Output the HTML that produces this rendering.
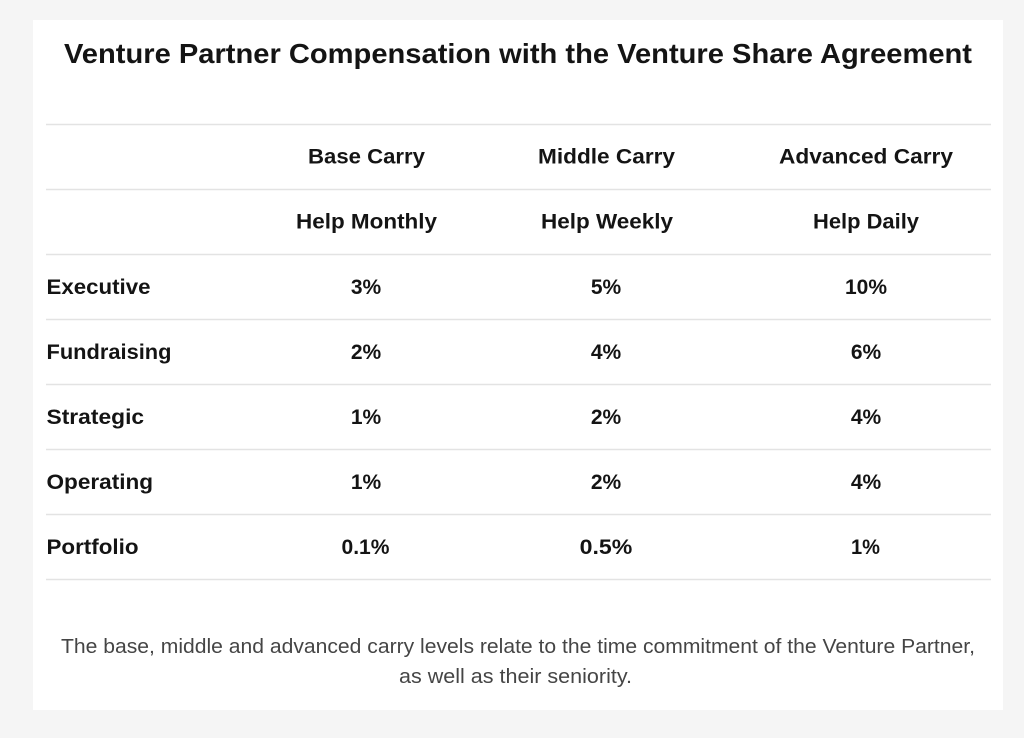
<!DOCTYPE html>
<html>
<head>
<meta charset="utf-8">
<style>
  html, body { margin:0; padding:0; background:#f5f5f5; }
  body { width:1024px; height:738px; overflow:hidden; }
  svg { display:block; }
  .t { font-family:"Liberation Sans", sans-serif; fill:#141414; }
  .b { font-weight:bold; font-size:21px; }
</style>
</head>
<body>
<svg width="1024" height="738" viewBox="0 0 1024 738" xmlns="http://www.w3.org/2000/svg">
  <rect x="0" y="0" width="1024" height="738" fill="#f5f5f5"/>
  <rect x="33" y="20" width="970" height="690" fill="#ffffff"/>

  <text class="t" x="518" y="63" text-anchor="middle" font-size="28" font-weight="bold" textLength="908" lengthAdjust="spacingAndGlyphs">Venture Partner Compensation with the Venture Share Agreement</text>

  <g stroke="#e3e3e3" stroke-width="1.5">
    <line x1="46" y1="124.5" x2="991" y2="124.5"/>
    <line x1="46" y1="189.5" x2="991" y2="189.5"/>
    <line x1="46" y1="254.5" x2="991" y2="254.5"/>
    <line x1="46" y1="319.5" x2="991" y2="319.5"/>
    <line x1="46" y1="384.5" x2="991" y2="384.5"/>
    <line x1="46" y1="449.5" x2="991" y2="449.5"/>
    <line x1="46" y1="514.5" x2="991" y2="514.5"/>
    <line x1="46" y1="579.5" x2="991" y2="579.5"/>
  </g>

  <!-- header rows -->
  <text class="t b" x="366.5" y="163.5" text-anchor="middle" textLength="117" lengthAdjust="spacingAndGlyphs">Base Carry</text>
  <text class="t b" x="606.5" y="163.5" text-anchor="middle" textLength="137" lengthAdjust="spacingAndGlyphs">Middle Carry</text>
  <text class="t b" x="866" y="163.5" text-anchor="middle" textLength="174" lengthAdjust="spacingAndGlyphs">Advanced Carry</text>

  <text class="t b" x="366.5" y="228.5" text-anchor="middle" textLength="141" lengthAdjust="spacingAndGlyphs">Help Monthly</text>
  <text class="t b" x="607" y="228.5" text-anchor="middle" textLength="132" lengthAdjust="spacingAndGlyphs">Help Weekly</text>
  <text class="t b" x="866" y="228.5" text-anchor="middle" textLength="106" lengthAdjust="spacingAndGlyphs">Help Daily</text>

  <!-- data rows -->
  <text class="t b" x="46.5" y="294" textLength="104" lengthAdjust="spacingAndGlyphs">Executive</text>
  <text class="t b" x="366" y="294" text-anchor="middle">3%</text>
  <text class="t b" x="606" y="294" text-anchor="middle">5%</text>
  <text class="t b" x="866" y="294" text-anchor="middle">10%</text>

  <text class="t b" x="46.5" y="359" textLength="125" lengthAdjust="spacingAndGlyphs">Fundraising</text>
  <text class="t b" x="366" y="359" text-anchor="middle">2%</text>
  <text class="t b" x="606" y="359" text-anchor="middle">4%</text>
  <text class="t b" x="866" y="359" text-anchor="middle">6%</text>

  <text class="t b" x="46.5" y="424" textLength="97.6" lengthAdjust="spacingAndGlyphs">Strategic</text>
  <text class="t b" x="366" y="424" text-anchor="middle">1%</text>
  <text class="t b" x="606" y="424" text-anchor="middle">2%</text>
  <text class="t b" x="866" y="424" text-anchor="middle">4%</text>

  <text class="t b" x="46.5" y="489" textLength="106.6" lengthAdjust="spacingAndGlyphs">Operating</text>
  <text class="t b" x="366" y="489" text-anchor="middle">1%</text>
  <text class="t b" x="606" y="489" text-anchor="middle">2%</text>
  <text class="t b" x="866" y="489" text-anchor="middle">4%</text>

  <text class="t b" x="46.5" y="554" textLength="92" lengthAdjust="spacingAndGlyphs">Portfolio</text>
  <text class="t b" x="365.5" y="554" text-anchor="middle" textLength="48" lengthAdjust="spacingAndGlyphs">0.1%</text>
  <text class="t b" x="606" y="554" text-anchor="middle" textLength="52.7" lengthAdjust="spacingAndGlyphs">0.5%</text>
  <text class="t b" x="865.5" y="554" text-anchor="middle" textLength="29" lengthAdjust="spacingAndGlyphs">1%</text>

  <!-- footer -->
  <text x="518" y="653" text-anchor="middle" font-family="Liberation Sans, sans-serif" font-size="20" fill="#454545" textLength="914" lengthAdjust="spacingAndGlyphs">The base, middle and advanced carry levels relate to the time commitment of the Venture Partner,</text>
  <text x="515.5" y="683" text-anchor="middle" font-family="Liberation Sans, sans-serif" font-size="20" fill="#454545" textLength="233" lengthAdjust="spacingAndGlyphs">as well as their seniority.</text>
</svg>
</body>
</html>
